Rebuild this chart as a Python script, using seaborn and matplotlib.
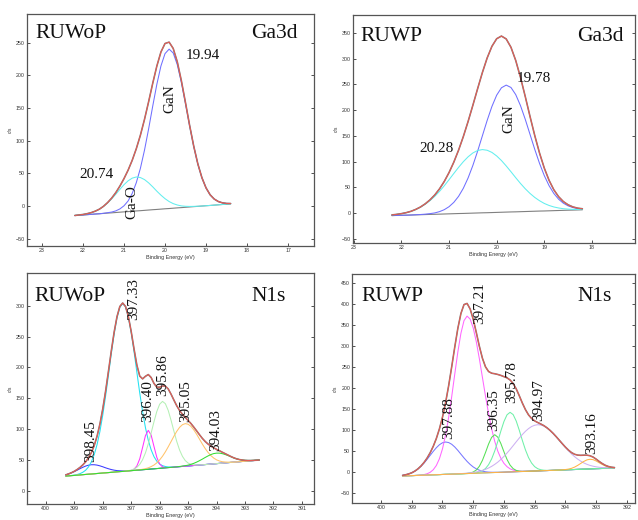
import matplotlib
matplotlib.use('Agg')
import matplotlib.pyplot as plt
import numpy as np
import seaborn as sns

sns.set_theme(style='white')
plt.rcParams['font.family'] = ['Liberation Serif', 'DejaVu Serif']

# ---------------- Ga3d, RUWoP (step 0.1 eV) ----------------
woP_ga_energy = np.round(np.linspace(22.2, 18.4, 39), 1)
woP_ga_bg = [-14.5, -14.0, -13.6, -13.1, -12.6, -12.1, -11.7, -11.2, -10.7, -10.3,
             -9.8, -9.3, -8.8, -8.4, -7.9, -7.4, -7.0, -6.5, -6.0, -5.5,
             -5.1, -4.6, -4.1, -3.7, -3.2, -2.7, -2.3, -1.8, -1.3, -0.8,
             -0.4, 0.1, 0.6, 1.0, 1.5, 2.0, 2.5, 2.9, 3.4]
woP_ga_gan = [0, 0, 0, 0, 0, 0, 0, 0.2, 0.6, 1.2,
              2.5, 5.0, 9.3, 16.3, 27.3, 43.3, 64.9, 92.2, 124.1, 158.4,
              191.3, 219.0, 237.5, 244, 237.5, 219.0, 191.3, 158.4, 124.1, 92.2,
              64.9, 43.3, 27.3, 16.3, 9.3, 5.0, 2.5, 1.2, 0.6]
woP_ga_gao = [0.2, 0.4, 0.8, 1.5, 2.6, 4.4, 7.0, 10.7, 15.5, 21.4,
              28.0, 35.0, 41.6, 47.1, 50.7, 52, 50.7, 47.1, 41.6, 35.0,
              28.0, 21.4, 15.5, 10.7, 7.0, 4.4, 2.6, 1.5, 0.8, 0.4,
              0.2, 0, 0, 0, 0, 0, 0, 0, 0]

# ---------------- Ga3d, RUWP ----------------
wp_ga_energy = np.round(np.linspace(22.2, 18.2, 41), 1)
wp_ga_bg = [-5.0, -4.7, -4.4, -4.2, -3.9, -3.6, -3.3, -3.0, -2.7, -2.5,
            -2.2, -1.9, -1.6, -1.3, -1.0, -0.8, -0.5, -0.2, 0.1, 0.4,
            0.6, 0.9, 1.2, 1.5, 1.8, 2.1, 2.3, 2.6, 2.9, 3.2,
            3.5, 3.8, 4.0, 4.3, 4.6, 4.9, 5.2, 5.5, 5.7, 6.0, 6.3]
wp_ga_gan = [0, 0, 0, 0, 0, 0.2, 0.4, 0.8, 1.5, 2.7,
             4.9, 8.4, 13.9, 22.0, 33.4, 48.9, 68.7, 92.7, 120.2, 149.8,
             179.4, 206.3, 228.0, 242.1, 247, 242.1, 228.0, 206.3, 179.4, 149.8,
             120.2, 92.7, 68.7, 48.9, 33.4, 22.0, 13.9, 8.4, 4.9, 2.7, 1.5]
wp_ga_gao = [1.3, 2.1, 3.2, 4.9, 7.2, 10.4, 14.6, 20.1, 26.8, 34.9,
             44.3, 54.9, 66.4, 78.2, 89.8, 100.6, 109.8, 117.0, 121.5, 123,
             121.5, 117.0, 109.8, 100.6, 89.8, 78.2, 66.4, 54.9, 44.3, 34.9,
             26.8, 20.1, 14.6, 10.4, 7.2, 4.9, 3.2, 2.1, 1.3, 0.8, 0.5]

# ---------------- N1s, RUWoP ----------------
woP_n_energy = np.round(np.linspace(399.3, 392.5, 69), 1)
woP_n_bg = [24.0, 24.4, 24.8, 25.1, 25.5, 25.9, 26.3, 26.7, 27.1, 27.4,
            27.8, 28.2, 28.6, 29.0, 29.3, 29.7, 30.1, 30.5, 30.9, 31.3,
            31.6, 32.0, 32.4, 32.8, 33.2, 33.6, 33.9, 34.3, 34.7, 35.1,
            35.5, 35.8, 36.2, 36.6, 37.0, 37.4, 37.8, 38.1, 38.5, 38.9,
            39.3, 39.7, 40.0, 40.4, 40.8, 41.2, 41.6, 42.0, 42.3, 42.7,
            43.1, 43.5, 43.9, 44.2, 44.6, 45.0, 45.4, 45.8, 46.2, 46.5,
            46.9, 47.3, 47.7, 48.1, 48.4, 48.8, 49.2, 49.6, 50.0]
woP_n_398_45 = [2.0, 3.1, 4.5, 6.2, 8.1, 10.1, 12.0, 13.6, 14.6, 15,
                14.6, 13.6, 12.0, 10.1, 8.1, 6.2, 4.5, 3.1, 2.0, 1.3,
                0.8, 0.4, 0.2, 0.1, 0, 0, 0, 0, 0, 0,
                0, 0, 0, 0, 0, 0, 0, 0, 0, 0,
                0, 0, 0, 0, 0, 0, 0, 0, 0, 0,
                0, 0, 0, 0, 0, 0, 0, 0, 0, 0,
                0, 0, 0, 0, 0, 0, 0, 0, 0]
woP_n_397_33 = [0, 0.1, 0.2, 0.5, 1.1, 2.1, 3.9, 6.9, 11.9, 19.7,
                31.1, 46.9, 67.8, 93.9, 124.5, 158.1, 192.2, 223.7, 249.4, 266.2,
                272, 266.2, 249.4, 223.7, 192.2, 158.1, 124.5, 93.9, 67.8, 46.9,
                31.1, 19.7, 11.9, 6.9, 3.9, 2.1, 1.1, 0.5, 0.2, 0.1,
                0, 0, 0, 0, 0, 0, 0, 0, 0, 0,
                0, 0, 0, 0, 0, 0, 0, 0, 0, 0,
                0, 0, 0, 0, 0, 0, 0, 0, 0]
woP_n_396_40 = [0, 0, 0, 0, 0, 0, 0, 0, 0, 0,
                0, 0, 0, 0, 0, 0, 0, 0, 0, 0,
                0, 0, 0.1, 0.4, 2.0, 6.9, 18.1, 36.2, 54.9, 63,
                54.9, 36.2, 18.1, 6.9, 2.0, 0.4, 0.1, 0, 0, 0,
                0, 0, 0, 0, 0, 0, 0, 0, 0, 0,
                0, 0, 0, 0, 0, 0, 0, 0, 0, 0,
                0, 0, 0, 0, 0, 0, 0, 0, 0]
woP_n_395_86 = [0, 0, 0, 0, 0, 0, 0, 0, 0, 0,
                0, 0, 0, 0, 0, 0, 0, 0, 0, 0,
                0, 0.2, 0.4, 1.0, 2.3, 4.7, 9.1, 16.3, 26.9, 41.2,
                58.3, 76.3, 92.6, 103.9, 108, 103.9, 92.6, 76.3, 58.3, 41.2,
                26.9, 16.3, 9.1, 4.7, 2.3, 1.0, 0.4, 0.2, 0, 0,
                0, 0, 0, 0, 0, 0, 0, 0, 0, 0,
                0, 0, 0, 0, 0, 0, 0, 0, 0]
woP_n_395_05 = [0, 0, 0, 0, 0, 0, 0, 0, 0, 0,
                0, 0, 0, 0, 0, 0, 0, 0, 0, 0,
                0, 0, 0, 0, 0, 0.2, 0.4, 0.8, 1.4, 2.3,
                3.9, 6.1, 9.3, 13.7, 19.2, 25.9, 33.6, 41.8, 50.1, 57.6,
                63.7, 67.6, 69, 67.6, 63.7, 57.6, 50.1, 41.8, 33.6, 25.9,
                19.2, 13.7, 9.3, 6.1, 3.9, 2.3, 1.4, 0.8, 0.4, 0.2,
                0, 0, 0, 0, 0, 0, 0, 0, 0]
woP_n_394_03 = [0, 0, 0, 0, 0, 0, 0, 0, 0, 0,
                0, 0, 0, 0, 0, 0, 0, 0, 0, 0,
                0, 0, 0, 0, 0, 0, 0, 0, 0, 0,
                0, 0, 0, 0, 0, 0, 0, 0, 0, 0.1,
                0.3, 0.5, 0.9, 1.4, 2.3, 3.5, 5.1, 7.0, 9.2, 11.5,
                13.6, 15.4, 16.6, 17, 16.6, 15.4, 13.6, 11.5, 9.2, 7.0,
                5.1, 3.5, 2.3, 1.4, 0.9, 0.5, 0.3, 0.1, 0]

# ---------------- N1s, RUWP ----------------
wp_n_energy = np.round(np.linspace(399.3, 392.4, 70), 1)
wp_n_bg = [-10.0, -9.7, -9.4, -9.2, -8.9, -8.6, -8.3, -8.1, -7.8, -7.5,
           -7.2, -7.0, -6.7, -6.4, -6.1, -5.9, -5.6, -5.3, -5.0, -4.8,
           -4.5, -4.2, -3.9, -3.7, -3.4, -3.1, -2.8, -2.6, -2.3, -2.0,
           -1.7, -1.5, -1.2, -0.9, -0.6, -0.4, -0.1, 0.2, 0.5, 0.7,
           1.0, 1.3, 1.6, 1.8, 2.1, 2.4, 2.7, 2.9, 3.2, 3.5,
           3.8, 4.0, 4.3, 4.6, 4.9, 5.1, 5.4, 5.7, 6.0, 6.2,
           6.5, 6.8, 7.1, 7.4, 7.6, 7.9, 8.2, 8.5, 8.7, 9.0]
wp_n_397_88 = [1.5, 2.6, 4.3, 6.8, 10.4, 15.2, 21.4, 28.9, 37.5, 46.7,
               55.9, 64.3, 71.1, 75.5, 77, 75.5, 71.1, 64.3, 55.9, 46.7,
               37.5, 28.9, 21.4, 15.2, 10.4, 6.8, 4.3, 2.6, 1.5, 0.9,
               0.5, 0.2, 0.1, 0, 0, 0, 0, 0, 0, 0,
               0, 0, 0, 0, 0, 0, 0, 0, 0, 0,
               0, 0, 0, 0, 0, 0, 0, 0, 0, 0,
               0, 0, 0, 0, 0, 0, 0, 0, 0, 0]
wp_n_397_21 = [0, 0, 0, 0, 0.1, 0.3, 0.6, 1.5, 3.1, 6.3,
               12.1, 22.0, 37.8, 61.1, 93.5, 135.2, 184.6, 238.3, 290.6, 334.8,
               364.5, 375, 367.6, 346.2, 313.2, 272.3, 227.4, 182.6, 140.7, 104.3,
               74.2, 50.7, 33.3, 21.0, 12.8, 7.4, 4.2, 2.3, 1.2, 0.6,
               0.3, 0.1, 0, 0, 0, 0, 0, 0, 0, 0,
               0, 0, 0, 0, 0, 0, 0, 0, 0, 0,
               0, 0, 0, 0, 0, 0, 0, 0, 0, 0]
wp_n_396_35 = [0, 0, 0, 0, 0, 0, 0, 0, 0, 0,
               0, 0, 0, 0, 0, 0, 0, 0, 0, 0,
               0.1, 0.3, 1.1, 3.1, 7.6, 16.2, 30.0, 48.5, 68.4, 84.0,
               90, 84.0, 68.4, 48.5, 30.0, 16.2, 7.6, 3.1, 1.1, 0.3,
               0.1, 0, 0, 0, 0, 0, 0, 0, 0, 0,
               0, 0, 0, 0, 0, 0, 0, 0, 0, 0,
               0, 0, 0, 0, 0, 0, 0, 0, 0, 0]
wp_n_395_78 = [0, 0, 0, 0, 0, 0, 0, 0, 0, 0,
               0, 0, 0, 0, 0, 0, 0, 0, 0, 0,
               0, 0, 0.1, 0.4, 1.0, 2.4, 5.2, 10.4, 19.2, 32.7,
               51.2, 73.9, 98.3, 120.6, 136.3, 142, 136.3, 120.6, 98.3, 73.9,
               51.2, 32.7, 19.2, 10.4, 5.2, 2.4, 1.0, 0.4, 0.1, 0,
               0, 0, 0, 0, 0, 0, 0, 0, 0, 0,
               0, 0, 0, 0, 0, 0, 0, 0, 0, 0]
wp_n_394_97 = [0, 0, 0, 0, 0, 0, 0, 0, 0, 0,
               0, 0, 0, 0, 0, 0, 0.1, 0.2, 0.3, 0.4,
               0.7, 1.0, 1.5, 2.2, 3.1, 4.4, 6.2, 8.4, 11.3, 14.9,
               19.3, 24.5, 30.6, 37.5, 45.2, 53.5, 62.3, 71.2, 79.9, 88.1,
               95.4, 101.5, 106.2, 109.0, 110, 109.0, 106.2, 101.5, 95.4, 88.1,
               79.9, 71.2, 62.3, 53.5, 45.2, 37.5, 30.6, 24.5, 19.3, 14.9,
               11.3, 8.4, 6.2, 4.4, 3.1, 2.2, 1.5, 1.0, 0.7, 0.4]
wp_n_393_16 = [0, 0, 0, 0, 0, 0, 0, 0, 0, 0,
               0, 0, 0, 0, 0, 0, 0, 0, 0, 0,
               0, 0, 0, 0, 0, 0, 0, 0, 0, 0,
               0, 0, 0, 0, 0, 0, 0, 0, 0, 0,
               0, 0, 0, 0, 0, 0, 0, 0, 0, 0,
               0, 0.1, 0.3, 0.7, 1.5, 3.1, 5.7, 9.5, 13.9, 18.4,
               21.8, 23, 21.8, 18.4, 13.9, 9.5, 5.7, 3.1, 1.5, 0.7]


def draw_panel(ax, energy, bg, comps, colors, bg_color):
    bg = np.asarray(bg, dtype=float)
    total = bg.copy()
    sns.lineplot(x=energy, y=bg, ax=ax, color=bg_color, lw=0.8)
    for comp, col in zip(comps, colors):
        comp = np.asarray(comp, dtype=float)
        total = total + comp
        sns.lineplot(x=energy, y=bg + comp, ax=ax, color=col, lw=0.75)
    # fitted envelope (grey) and measured spectrum (red)
    sns.lineplot(x=energy, y=total, ax=ax, color='#7a7a7a', lw=1.15)
    sns.lineplot(x=energy, y=total, ax=ax, color='#ec5a52', lw=0.7)


def style_axes(ax, xlim, ylim, xticks, yticks):
    ax.set_xlim(*xlim)
    ax.set_ylim(*ylim)
    ax.set_xticks(xticks)
    ax.set_yticks(yticks)
    ax.tick_params(direction='in', length=2.5, width=0.6, labelsize=3.8,
                   colors='#333333', bottom=True, left=True, right=True,
                   top=False, pad=1.5)
    for lab in ax.get_xticklabels() + ax.get_yticklabels():
        lab.set_family('Liberation Sans')
    ax.set_xlabel('Binding Energy (eV)', fontsize=3.9, family='Liberation Sans',
                  labelpad=1.2, color='#333333')
    ax.set_ylabel('c/s', fontsize=3.6, family='Liberation Sans', labelpad=2,
                  color='#333333')
    for s in ax.spines.values():
        s.set_color('#555555')
        s.set_linewidth(0.9)


fig = plt.figure(figsize=(6.38, 5.2), dpi=100)
ax1 = fig.add_axes([0.042, 0.527, 0.450, 0.446])
ax2 = fig.add_axes([0.553, 0.533, 0.442, 0.438])
ax3 = fig.add_axes([0.042, 0.031, 0.450, 0.444])
ax4 = fig.add_axes([0.552, 0.033, 0.443, 0.440])

big = dict(fontsize=15.5, color='#111111')
num = dict(fontsize=11, color='#111111')

# Ga3d RUWoP
draw_panel(ax1, woP_ga_energy, woP_ga_bg, [woP_ga_gan, woP_ga_gao],
           ['#6f6fff', '#62eeee'], '#808080')
style_axes(ax1, (23.37, 16.37), (-61, 294), range(17, 24), range(-50, 251, 50))
ax1.text(0.031, 0.895, 'RUWoP', transform=ax1.transAxes, ha='left', va='baseline', **big)
ax1.text(0.944, 0.895, 'Ga3d', transform=ax1.transAxes, ha='right', va='baseline', **big)
ax1.text(19.49, 230, '19.94', ha='left', va='center', **num)
ax1.text(19.88, 164, 'GaN', rotation=90, ha='center', va='center', **num)
ax1.text(21.66, 49, '20.74', ha='center', va='center', **num)
ax1.text(20.80, 6, 'Ga-O', rotation=90, ha='center', va='center', **num)

# Ga3d RUWP
draw_panel(ax2, wp_ga_energy, wp_ga_bg, [wp_ga_gan, wp_ga_gao],
           ['#6f6fff', '#62eeee'], '#808080')
style_axes(ax2, (23.02, 17.1), (-58, 385), range(18, 24), range(-50, 351, 50))
ax2.text(0.028, 0.886, 'RUWP', transform=ax2.transAxes, ha='left', va='baseline', **big)
ax2.text(0.961, 0.886, 'Ga3d', transform=ax2.transAxes, ha='right', va='baseline', **big)
ax2.text(19.22, 261, '19.78', ha='center', va='center', **num)
ax2.text(19.74, 183, 'GaN', rotation=90, ha='center', va='center', **num)
ax2.text(21.26, 126, '20.28', ha='center', va='center', **num)

# N1s RUWoP
draw_panel(ax3, woP_n_energy, woP_n_bg,
           [woP_n_398_45, woP_n_397_33, woP_n_396_40, woP_n_395_86,
            woP_n_395_05, woP_n_394_03],
           ['#3a3aff', '#22e2f2', '#ff33ff', '#b5f0b5', '#ffc36b', '#33dd33'],
           '#9fcf9f')
style_axes(ax3, (400.67, 390.58), (-21, 353), range(391, 401), range(0, 301, 50))
ax3.text(0.028, 0.880, 'RUWoP', transform=ax3.transAxes, ha='left', va='baseline', **big)
ax3.text(0.902, 0.880, 'N1s', transform=ax3.transAxes, ha='right', va='baseline', **big)
for xe, yi, s in [(396.90, 310, '397.33'), (396.43, 146, '396.40'),
                  (395.90, 188, '395.86'), (395.08, 146, '395.05'),
                  (394.02, 99, '394.03'), (398.42, 80, '398.45')]:
    ax3.text(xe, yi, s, rotation=90, ha='center', va='center', **num)

# N1s RUWP
draw_panel(ax4, wp_n_energy, wp_n_bg,
           [wp_n_397_88, wp_n_397_21, wp_n_396_35, wp_n_395_78,
            wp_n_394_97, wp_n_393_16],
           ['#7777ff', '#ff66ff', '#55e055', '#6ff0a8', '#cdb0f2', '#ffb347'],
           '#5fd0c8')
style_axes(ax4, (400.94, 391.74), (-74, 471), range(392, 401), range(-50, 451, 50))
ax4.text(0.032, 0.883, 'RUWP', transform=ax4.transAxes, ha='left', va='baseline', **big)
ax4.text(0.919, 0.883, 'N1s', transform=ax4.transAxes, ha='right', va='baseline', **big)
for xe, yi, s in [(396.78, 402, '397.21'), (397.80, 129, '397.88'),
                  (396.34, 148, '396.35'), (395.75, 214, '395.78'),
                  (394.88, 172, '394.97'), (393.14, 93, '393.16')]:
    ax4.text(xe, yi, s, rotation=90, ha='center', va='center', **num)

fig.savefig('out.png', dpi=100)
